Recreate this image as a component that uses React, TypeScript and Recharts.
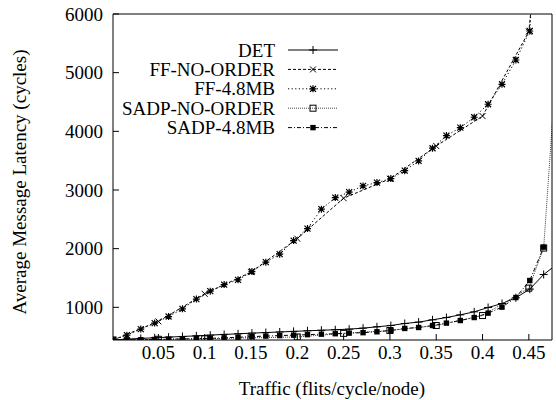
import { LineChart, Line, XAxis, YAxis } from "recharts"

// traffic (flits/cycle/node) sample points
const traffic = [
  0.001, 0.016, 0.031, 0.046, 0.061, 0.076, 0.091, 0.106, 0.121, 0.136, 0.151,
  0.166, 0.181, 0.196, 0.211, 0.226, 0.241, 0.256, 0.271, 0.286, 0.301, 0.316,
  0.331, 0.346, 0.361, 0.376, 0.391, 0.406, 0.421, 0.436, 0.451, 0.466,
]
const detTraffic = [
  0.001, 0.016, 0.031, 0.046, 0.061, 0.076, 0.091, 0.106, 0.121, 0.136, 0.151,
  0.166, 0.181, 0.196, 0.211, 0.226, 0.241, 0.256, 0.271, 0.286, 0.301, 0.316,
  0.331, 0.346, 0.361, 0.376, 0.391, 0.406, 0.421, 0.436, 0.451, 0.466, 0.48,
]
const ffNoOrderTraffic = [0.001, 0.05, 0.1, 0.15, 0.2, 0.25, 0.3, 0.35, 0.4, 0.45, 0.46]
const sadpNoOrderTraffic = [0.001, 0.05, 0.1, 0.15, 0.2, 0.25, 0.3, 0.35, 0.4, 0.45, 0.466, 0.48]

// average message latency (cycles)
const detLatency = [
  445, 458, 470, 481, 492, 503, 514, 526, 538, 549, 560, 570, 580, 590, 600, 609,
  618, 628, 645, 668, 690, 724, 748, 787, 826, 872, 923, 997, 1065, 1162, 1310,
  1559, 1730,
]
const ffNoOrderLatency = [443, 760, 1230, 1600, 2170, 2860, 3190, 3750, 4260, 5700, 7300]
const ff48Latency = [
  443, 526, 629, 731, 843, 974, 1140, 1276, 1388, 1468, 1610, 1770, 1906, 2138,
  2342, 2673, 2870, 2963, 3070, 3126, 3194, 3330, 3496, 3712, 3927, 4063, 4240,
  4462, 4802, 5216, 5710, 9500,
]
const sadpNoOrderLatency = [443, 455, 463, 480, 495, 556, 605, 690, 860, 1327, 2010, 5200]
const sadp48Latency = [
  443, 445, 448, 452, 456, 461, 466, 472, 480, 490, 500, 510, 518, 526, 534, 542,
  550, 560, 568, 583, 605, 640, 656, 690, 731, 775, 826, 901, 1003, 1167, 1457,
  2026,
]

const xTicks = [0.05, 0.1, 0.15, 0.2, 0.25, 0.3, 0.35, 0.4, 0.45]
const yTicks = [1000, 2000, 3000, 4000, 5000, 6000]

const pairs = (xs: number[], ys: number[]) => xs.map((x, i) => ({ x, v: ys[i] }))

type Mark = "plus" | "cross" | "star" | "box" | "boxFilled"

const FONT = "'Liberation Serif', 'Times New Roman', serif"

function Marker({ kind, cx, cy }: { kind: Mark; cx: number; cy: number }) {
  if (cx == null || cy == null) return null
  const s = { stroke: "#000", strokeWidth: 1, fill: "none" }
  if (kind === "plus")
    return <path {...s} d={`M${cx - 4},${cy}H${cx + 4}M${cx},${cy - 4}V${cy + 4}`} />
  if (kind === "cross")
    return (
      <path
        {...s}
        d={`M${cx - 3},${cy - 3}L${cx + 3},${cy + 3}M${cx - 3},${cy + 3}L${cx + 3},${cy - 3}`}
      />
    )
  if (kind === "star")
    return (
      <path
        {...s}
        strokeWidth={1.2}
        d={`M${cx - 3.5},${cy}H${cx + 3.5}M${cx},${cy - 3.5}V${cy + 3.5}M${cx - 3},${cy - 3}L${cx + 3},${cy + 3}M${cx - 3},${cy + 3}L${cx + 3},${cy - 3}`}
      />
    )
  if (kind === "box")
    return <rect {...s} x={cx - 3} y={cy - 3} width={6} height={6} />
  return <rect fill="#000" x={cx - 2.7} y={cy - 2.7} width={5.4} height={5.4} />
}

const dotOf = (kind: Mark) => (p: any) => (
  <Marker key={`${kind}-${p.index}`} kind={kind} cx={p.cx} cy={p.cy} />
)

const series = [
  { name: "DET", data: pairs(detTraffic, detLatency), mark: "plus" as Mark, dash: undefined, color: "#000" },
  { name: "FF-NO-ORDER", data: pairs(ffNoOrderTraffic, ffNoOrderLatency), mark: "cross" as Mark, dash: "3 2", color: "#000" },
  { name: "FF-4.8MB", data: pairs(traffic, ff48Latency), mark: "star" as Mark, dash: "1.2 2.4", color: "#000" },
  { name: "SADP-NO-ORDER", data: pairs(sadpNoOrderTraffic, sadpNoOrderLatency), mark: "box" as Mark, dash: "1 1", color: "#444" },
  { name: "SADP-4.8MB", data: pairs(traffic, sadp48Latency), mark: "boxFilled" as Mark, dash: "4 2 1 2", color: "#000" },
]

const tickStyle = { fontSize: 19, fill: "#000", fontFamily: FONT }

export default function App() {
  return (
    <div style={{ position: "absolute", left: 0, top: 0, width: 556, height: 400, background: "#fff" }}>
      <LineChart width={556} height={400} margin={{ top: 0, right: 0, bottom: 0, left: 0 }}>
        <XAxis
          dataKey="x"
          type="number"
          domain={[0.001, 0.475]}
          ticks={xTicks}
          interval={0}
          allowDataOverflow
          height={60}
          tickSize={-6}
          tickMargin={12}
          tick={tickStyle}
          stroke="#000"
        />
        <XAxis
          xAxisId="top"
          orientation="top"
          dataKey="x"
          type="number"
          domain={[0.001, 0.475]}
          ticks={xTicks}
          interval={0}
          height={14}
          tickSize={-6}
          tick={false}
          stroke="#000"
        />
        <YAxis
          type="number"
          domain={[443, 6000]}
          ticks={yTicks}
          interval={0}
          allowDataOverflow
          width={113}
          tickSize={-6}
          tickMargin={16}
          tick={tickStyle}
          stroke="#000"
        />
        <YAxis
          yAxisId="right"
          orientation="right"
          type="number"
          domain={[443, 6000]}
          ticks={yTicks}
          interval={0}
          width={4}
          tickSize={-6}
          tick={false}
          stroke="#000"
        />
        {series.map((s) => (
          <Line
            key={s.name}
            data={s.data}
            dataKey="v"
            name={s.name}
            stroke={s.color}
            strokeWidth={1}
            strokeDasharray={s.dash}
            dot={dotOf(s.mark)}
            activeDot={false}
            isAnimationActive={false}
          />
        ))}
      </LineChart>
      <svg
        width={556}
        height={400}
        style={{ position: "absolute", left: 0, top: 0, pointerEvents: "none" }}
      >
        <text x={332} y={395} textAnchor="middle" fontSize={19} fontFamily={FONT}>
          Traffic (flits/cycle/node)
        </text>
        <text
          x={26}
          y={182}
          transform="rotate(-90 26 182)"
          textAnchor="middle"
          fontSize={19}
          fontFamily={FONT}
        >
          Average Message Latency (cycles)
        </text>
        {series.map((s, i) => {
          const y = 50 + i * 19.4
          return (
            <g key={s.name}>
              <text x={275} y={y} dy="0.35em" textAnchor="end" fontSize={19} fontFamily={FONT}>
                {s.name}
              </text>
              <line x1={288} x2={338} y1={y} y2={y} stroke={s.color} strokeWidth={1} strokeDasharray={s.dash} />
              <Marker kind={s.mark} cx={313} cy={y} />
            </g>
          )
        })}
      </svg>
    </div>
  )
}
